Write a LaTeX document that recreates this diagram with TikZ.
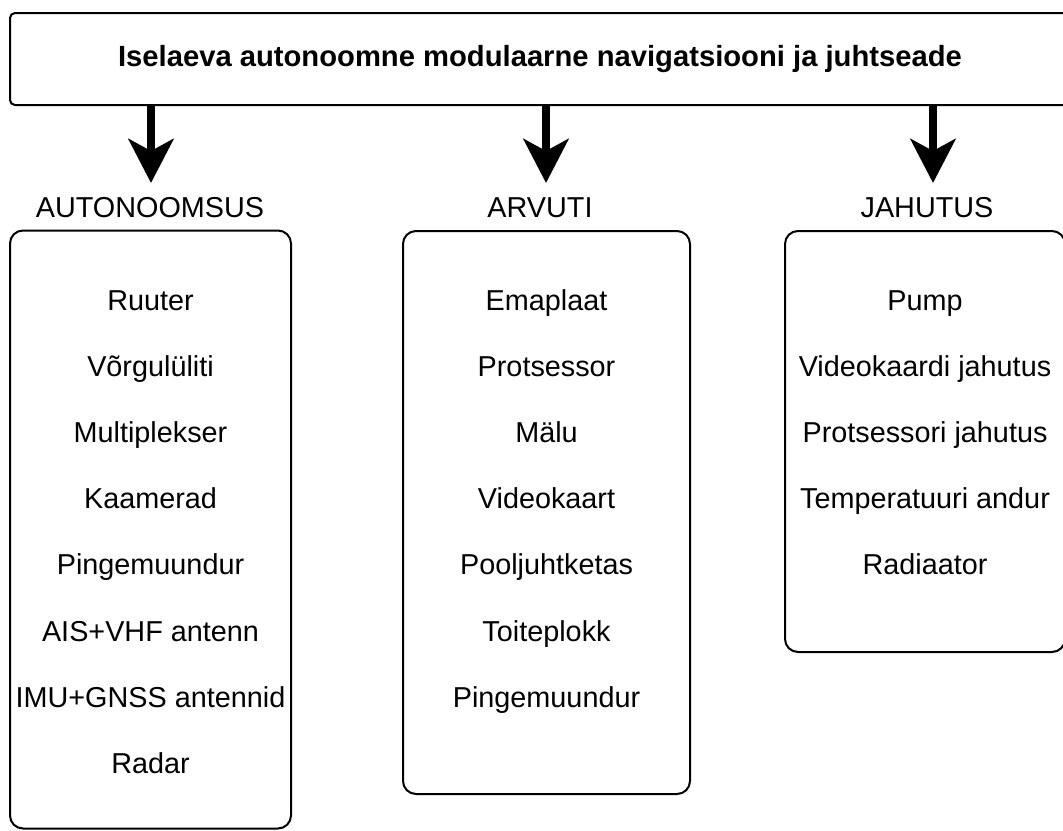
\documentclass[tikz,border=0pt]{standalone}
\usepackage{fontspec}
\setmainfont{Liberation Sans}
\usetikzlibrary{arrows.meta,positioning}

\begin{document}
\begin{tikzpicture}[x=0.5pt, y=-0.5pt, node distance=19.2pt,
font=\fontsize{14.4}{17.3}\selectfont,
titlebox/.style={draw,line width=1pt,rounded corners=2.5pt,minimum width=530pt,minimum height=46pt,inner sep=0pt,font=\fontsize{14.6}{17.5}\selectfont\bfseries},
panel/.style={draw,line width=1pt,rounded corners=6.5pt,inner sep=0pt},
head/.style={anchor=base,inner sep=0pt},
item/.style={inner sep=0pt,text height=10.5pt,text depth=3pt},
arr/.style={-{Stealth[length=22pt,width=22.5pt,inset=6pt]},line width=4pt}]
\useasboundingbox (0,0) rectangle (1063,830);
\node[titlebox] (title) at (540,59) {Iselaeva autonoomne modulaarne navigatsiooni ja juhtseade};
% group headings
\node[head] (autohead) at (150,217) {AUTONOOMSUS};
\node[head] (pchead) at (540,217) {ARVUTI};
\node[head] (coolhead) at (927,217) {JAHUTUS};
\coordinate (autotip) at (151,183);
\coordinate (pctip) at (546,183);
\coordinate (cooltip) at (933,183);
\draw[arr] (title.south -| autotip) -- (autotip);
\draw[arr] (title.south -| pctip) -- (pctip);
\draw[arr] (title.south -| cooltip) -- (cooltip);
% panels
\node[panel,minimum width=140.5pt,minimum height=299pt] (autobox) at (150.5,529.5) {};
\node[panel,minimum width=143.5pt,minimum height=281.5pt] (pcbox) at (546.5,512.5) {};
\node[panel,minimum width=140pt,minimum height=210.5pt] (coolbox) at (925,441.5) {};
% autonomy parts
\node[item] (ruuter) at (150.5,302.5) {Ruuter};
\node[item,below=of ruuter] (switch) {Võrgulüliti};
\node[item,below=of switch] (mux) {Multiplekser};
\node[item,below=of mux] (cams) {Kaamerad};
\node[item,below=of cams] (conv1) {Pingemuundur};
\node[item,below=of conv1] (ais) {AIS+VHF antenn};
\node[item,below=of ais] (imu) {IMU+GNSS antennid};
\node[item,below=of imu] (radar) {Radar};
% computer parts
\node[item] (board) at (546.5,302.5) {Emaplaat};
\node[item,below=of board] (cpu) {Protsessor};
\node[item,below=of cpu] (ram) {Mälu};
\node[item,below=of ram] (gpu) {Videokaart};
\node[item,below=of gpu] (ssd) {Pooljuhtketas};
\node[item,below=of ssd] (psu) {Toiteplokk};
\node[item,below=of psu] (conv2) {Pingemuundur};
% cooling parts
\node[item] (pump) at (925,302.5) {Pump};
\node[item,below=of pump] (gpucool) {Videokaardi jahutus};
\node[item,below=of gpucool] (cpucool) {Protsessori jahutus};
\node[item,below=of cpucool] (tempsens) {Temperatuuri andur};
\node[item,below=of tempsens] (rad) {Radiaator};
\end{tikzpicture}
\end{document}
